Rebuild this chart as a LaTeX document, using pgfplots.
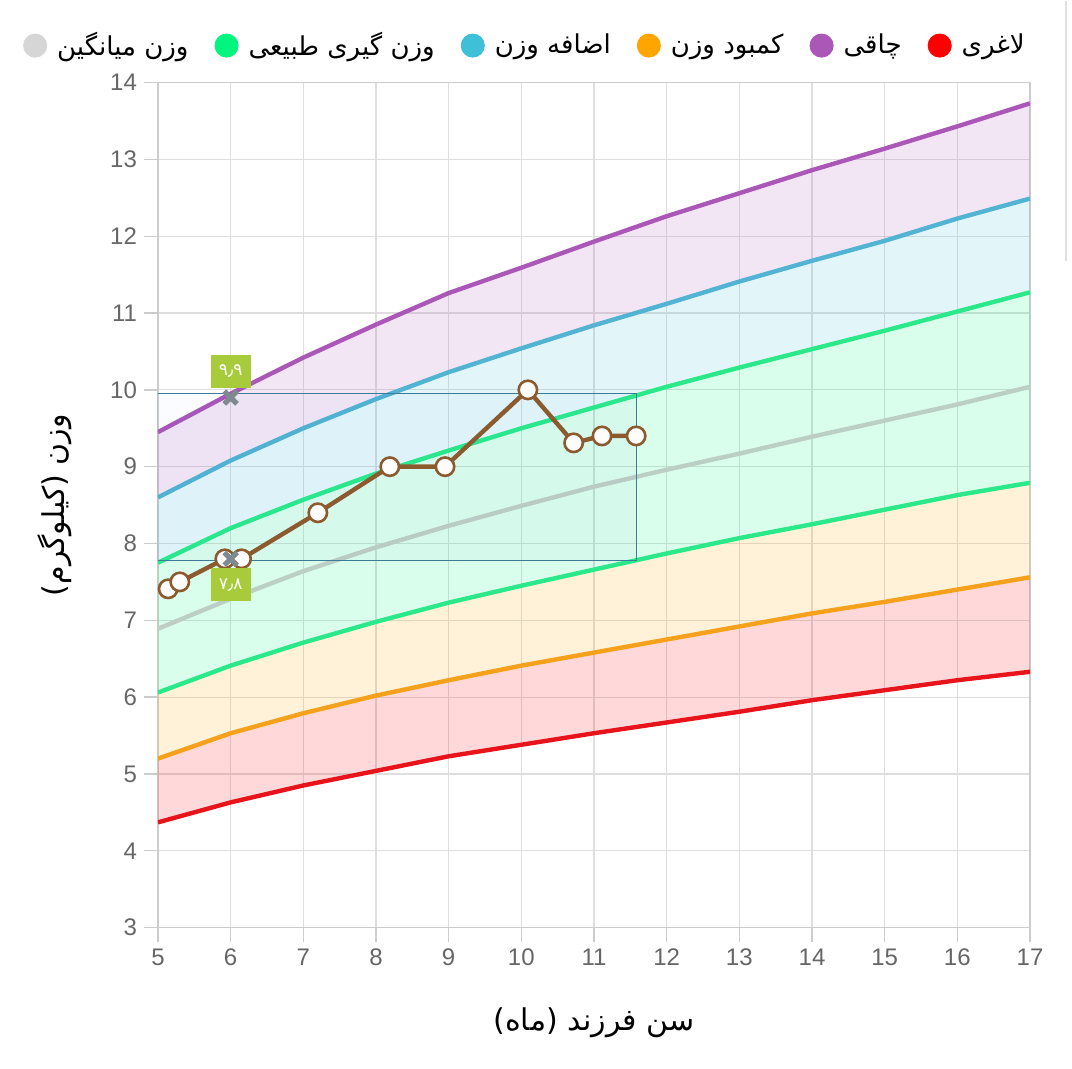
\documentclass[border=0pt]{standalone}
\usepackage{fontspec}
\setmainfont{Liberation Sans}
\newfontfamily\arabicfont[Script=Arabic]{DejaVu Sans}
\usepackage{pgfplots}
\pgfplotsset{compat=1.18}
\usepgfplotslibrary{fillbetween}
\TeXXeTstate=1
\definecolor{cred}{HTML}{E8141B}
\definecolor{corange}{HTML}{F5A11C}
\definecolor{cgreen}{HTML}{2BE98A}
\definecolor{cgrey}{HTML}{BCCFC4}
\definecolor{ccyan}{HTML}{52B3D3}
\definecolor{cpurple}{HTML}{AB57B8}
\definecolor{cbrown}{HTML}{8B5A2E}
\definecolor{lred}{HTML}{FF0000}
\definecolor{lorange}{HTML}{FFA500}
\definecolor{lgreen}{HTML}{00F57E}
\definecolor{lcyan}{HTML}{3FBFD8}
\definecolor{lpurple}{HTML}{AB57B8}
\definecolor{lgrey}{HTML}{D6D6D6}
\definecolor{lbox}{HTML}{A8CB3C}
\definecolor{rectc}{HTML}{3D7C99}
\definecolor{xmark}{HTML}{7E8A90}
\definecolor{tickc}{HTML}{666666}
\begin{document}
\begin{tikzpicture}
\begin{axis}[
  scale only axis,
  width=436pt, height=422.5pt,
  xmin=5, xmax=17, ymin=3, ymax=14,
  xtick={5,...,17}, ytick={3,...,14},
  grid=major,
  grid style={draw=black!13, line width=0.6pt},
  axis line style={draw=black!20, line width=0.7pt},
  tick align=outside,
  xtick pos=bottom, ytick pos=left,
  major tick length=7pt,
  tick style={draw=black!20, line width=0.7pt},
  ticklabel style={text=tickc, font=\fontsize{12}{14}\selectfont},
  /pgf/number format/assume math mode=true,
  xlabel={\arabicfont\beginR سن فرزند (ماه)\endR},
  ylabel={\arabicfont\beginR وزن (کیلوگرم)\endR},
  every axis x label/.style={at={(axis description cs:0.5,-0.1124)}, anchor=center, font=\fontsize{15}{18}\selectfont},
  every axis y label/.style={at={(axis description cs:-0.118,0.5)}, rotate=90, anchor=center, font=\fontsize{15}{18}\selectfont},
  legend columns=6,
  legend style={at={(axis description cs:0.422,1.0438)}, anchor=center, draw=none, fill=none,
    font=\fontsize{13}{15}\selectfont,
    /tikz/every even column/.append style={column sep=11pt}},
  legend cell align=left,
]
% bands
\addplot[name path=red, draw=cred, line width=2.2pt, forget plot] coordinates {(5,4.37) (6,4.63) (7,4.85) (8,5.04) (9,5.23) (10,5.38) (11,5.53) (12,5.67) (13,5.81) (14,5.96) (15,6.09) (16,6.22) (17,6.33)};
\addplot[name path=orange, draw=corange, line width=2.2pt, forget plot] coordinates {(5,5.20) (6,5.53) (7,5.79) (8,6.02) (9,6.22) (10,6.41) (11,6.58) (12,6.75) (13,6.92) (14,7.09) (15,7.24) (16,7.40) (17,7.56)};
\addplot[name path=greenlo, draw=cgreen, line width=2.2pt, forget plot] coordinates {(5,6.06) (6,6.41) (7,6.71) (8,6.98) (9,7.23) (10,7.45) (11,7.66) (12,7.87) (13,8.07) (14,8.25) (15,8.44) (16,8.63) (17,8.79)};
\addplot[name path=greenhi, draw=cgreen, line width=2.2pt, forget plot] coordinates {(5,7.75) (6,8.20) (7,8.57) (8,8.91) (9,9.21) (10,9.50) (11,9.77) (12,10.04) (13,10.29) (14,10.53) (15,10.77) (16,11.02) (17,11.27)};
\addplot[name path=cyan, draw=ccyan, line width=2.2pt, forget plot] coordinates {(5,8.60) (6,9.08) (7,9.50) (8,9.88) (9,10.23) (10,10.54) (11,10.84) (12,11.12) (13,11.41) (14,11.68) (15,11.94) (16,12.23) (17,12.49)};
\addplot[name path=purple, draw=cpurple, line width=2.2pt, forget plot] coordinates {(5,9.45) (6,9.95) (7,10.42) (8,10.85) (9,11.26) (10,11.59) (11,11.93) (12,12.26) (13,12.56) (14,12.86) (15,13.14) (16,13.43) (17,13.73)};
\addplot[fill=lred, fill opacity=0.15, forget plot] fill between[of=red and orange];
\addplot[fill=lorange, fill opacity=0.15, forget plot] fill between[of=orange and greenlo];
\addplot[fill=lgreen, fill opacity=0.15, forget plot] fill between[of=greenlo and greenhi];
\addplot[fill=lcyan, fill opacity=0.15, forget plot] fill between[of=greenhi and cyan];
\addplot[fill=lpurple, fill opacity=0.15, forget plot] fill between[of=cyan and purple];
% mean
\addplot[draw=cgrey, line width=2.2pt, forget plot] coordinates {(5,6.89) (6,7.28) (7,7.64) (8,7.95) (9,8.23) (10,8.49) (11,8.74) (12,8.96) (13,9.17) (14,9.39) (15,9.60) (16,9.81) (17,10.04)};
% rectangle
\addplot[draw=rectc, line width=0.5pt, fill=blue!60!cyan, fill opacity=0.02, forget plot] coordinates {(5,7.78) (11.58,7.78) (11.58,9.95) (5,9.95) (5,7.78)};
% child
\addplot[draw=cbrown, line width=2.2pt, mark=*, mark size=4.6pt,
  mark options={draw=cbrown, fill=white!95!pink, line width=1.3pt}, forget plot]
  coordinates {(5.14,7.41) (5.30,7.50) (5.92,7.80) (6.15,7.80) (7.20,8.40) (8.19,9.00) (8.95,9.00) (10.09,10.00) (10.72,9.31) (11.11,9.40) (11.58,9.40)};
% markers with labels
\addplot[only marks, mark=x, mark size=4.5pt, mark options={draw=xmark, line width=2.6pt}, forget plot,
  nodes near coords={\arabicfont ۹٫۹},
  nodes near coords style={anchor=south, yshift=3.5pt, fill=lbox, text=white, inner sep=3pt,
    minimum width=20pt, minimum height=16.5pt, font=\fontsize{8.5}{10}\selectfont}]
  coordinates {(6,9.9)};
\addplot[only marks, mark=x, mark size=4.5pt, mark options={draw=xmark, line width=2.6pt}, forget plot,
  nodes near coords={\arabicfont ۷٫۸},
  nodes near coords style={anchor=north, yshift=-3.5pt, fill=lbox, text=white, inner sep=3pt,
    minimum width=20pt, minimum height=16.5pt, font=\fontsize{8.5}{10}\selectfont}]
  coordinates {(6,7.8)};
% legend
\addlegendimage{legend image code/.code={\path[draw=none,fill=none] (0pt,-1pt) rectangle (15pt,1pt);\fill[lgrey] (6pt,0pt) circle (5.8pt);}}
\addlegendentry{\arabicfont\beginR وزن میانگین\endR}
\addlegendimage{legend image code/.code={\path[draw=none,fill=none] (0pt,-1pt) rectangle (15pt,1pt);\fill[lgreen] (6pt,0pt) circle (5.8pt);}}
\addlegendentry{\arabicfont\beginR وزن گیری طبیعی\endR}
\addlegendimage{legend image code/.code={\path[draw=none,fill=none] (0pt,-1pt) rectangle (15pt,1pt);\fill[lcyan] (6pt,0pt) circle (5.8pt);}}
\addlegendentry{\arabicfont\beginR اضافه وزن\endR}
\addlegendimage{legend image code/.code={\path[draw=none,fill=none] (0pt,-1pt) rectangle (15pt,1pt);\fill[lorange] (6pt,0pt) circle (5.8pt);}}
\addlegendentry{\arabicfont\beginR کمبود وزن\endR}
\addlegendimage{legend image code/.code={\path[draw=none,fill=none] (0pt,-1pt) rectangle (15pt,1pt);\fill[lpurple] (6pt,0pt) circle (5.8pt);}}
\addlegendentry{\arabicfont\beginR چاقی\endR}
\addlegendimage{legend image code/.code={\path[draw=none,fill=none] (0pt,-1pt) rectangle (15pt,1pt);\fill[lred] (6pt,0pt) circle (5.8pt);}}
\addlegendentry{\arabicfont\beginR لاغری\endR}
\end{axis}
\draw[black!12, line width=0.6pt] (454pt,333.5pt) -- (454pt,463.5pt);
\path (-79pt,-70.5pt) rectangle (457pt,463.5pt);
\end{tikzpicture}
\end{document}
